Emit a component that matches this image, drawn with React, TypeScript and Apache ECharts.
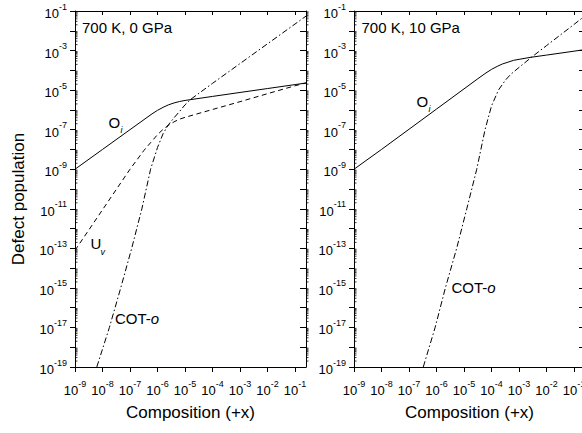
import React, { useEffect, useRef } from "react";
import * as echarts from "echarts";

// ---------- axis definitions ----------
const X_MIN = 1e-9;
const X_MAX = 0.25;
const Y_MIN = 1e-19;
const Y_MAX = 1e-1;
const xTickExps = [-9, -8, -7, -6, -5, -4, -3, -2, -1];
const yTickExps = [-1, -2, -3, -4, -5, -6, -7, -8, -9, -10, -11, -12, -13, -14, -15, -16, -17, -18, -19];
const yLabelExps = [-1, -3, -5, -7, -9, -11, -13, -15, -17, -19];

// ---------- panel 1: 700 K, 0 GPa ----------
const p1OiX = [1e-9, 1e-8, 1e-7, 6.3e-7, 1e-6, 1.6e-6, 2.5e-6, 4e-6, 6.3e-6, 1e-5, 1e-4, 1e-3, 1e-2, 0.1, 0.25];
const p1OiY = [1e-9, 1e-8, 1e-7, 6.3e-7, 9.5e-7, 1.35e-6, 1.8e-6, 2.25e-6, 2.65e-6, 3.0e-6, 4.8e-6, 7.6e-6, 1.2e-5, 1.9e-5, 2.3e-5];

const p1UvX = [1e-9, 1e-8, 1e-7, 3.2e-7, 5.6e-7, 1e-6, 1.6e-6, 2.5e-6, 4e-6, 6.3e-6, 1e-5, 1e-4, 1e-3, 1e-2, 0.1, 0.25];
const p1UvY = [7.9e-14, 8.9e-12, 1e-9, 8.9e-9, 2.2e-8, 5.6e-8, 1.05e-7, 1.66e-7, 2.5e-7, 3.4e-7, 4.2e-7, 1.05e-6, 2.6e-6, 6.6e-6, 1.66e-5, 2.3e-5];

const p1CotX = [6.2e-9, 1.78e-8, 4.6e-8, 1.15e-7, 2.7e-7, 5.6e-7, 1e-6, 1.6e-6, 2.5e-6, 4e-6, 6.3e-6, 1e-5, 1.6e-5, 3.2e-5, 1e-4, 1e-3, 1e-2, 0.1, 0.25];
const p1CotY = [1e-19, 1e-17, 1e-15, 1e-13, 1e-11, 1e-9, 1.26e-8, 6.3e-8, 1.8e-7, 4e-7, 8.3e-7, 1.8e-6, 3.4e-6, 6.9e-6, 2.2e-5, 2.2e-4, 2.2e-3, 2.2e-2, 5.5e-2];

// ---------- panel 2: 700 K, 10 GPa ----------
const p2OiX = [1e-9, 1e-8, 1e-6, 3.2e-5, 6.3e-5, 1e-4, 1.6e-4, 2.5e-4, 4e-4, 6.3e-4, 1e-3, 2.5e-3, 1e-2, 0.1, 0.25];
const p2OiY = [1e-9, 1e-8, 1.1e-6, 3.8e-5, 7.4e-5, 1.12e-4, 1.58e-4, 2.1e-4, 2.6e-4, 3.2e-4, 3.6e-4, 4.5e-4, 5.9e-4, 9.3e-4, 1.12e-3];

const p2CotX = [3.3e-7, 8.9e-7, 2.1e-6, 5.4e-6, 1.26e-5, 2.9e-5, 5.8e-5, 1e-4, 1.78e-4, 3.2e-4, 5e-4, 1e-3, 2.9e-3, 1e-2, 0.1, 0.25];
const p2CotY = [1e-19, 1e-17, 1e-15, 1e-13, 1e-11, 1e-9, 1e-7, 1.6e-6, 1e-5, 3.2e-5, 6.3e-5, 1.4e-4, 4.7e-4, 1.78e-3, 2.1e-2, 5.7e-2];

const FONT = "'Liberation Sans', Arial, Helvetica, sans-serif";
const BLACK = "#000";

const lg = (v: number) => Math.log10(v);
const pairs = (xs: number[], ys: number[]) => xs.map((x, i) => [lg(x), lg(ys[i])]);

// minor (log) tick positions on the y axes: k * 10^n
const minorMultipliers = [2, 3, 4, 5, 6, 7, 8, 9];

const supRich = {
  b: { fontSize: 13, fontFamily: FONT, color: BLACK, lineHeight: 18, verticalAlign: "bottom" },
  s: { fontSize: 9, fontFamily: FONT, color: BLACK, lineHeight: 8, verticalAlign: "top" },
};
const expLabel = (v: number) => `{b|10}{s|${Math.round(v)}}`;

function buildOption() {
  const grids = [
    { left: 75, top: 11, width: 231, height: 356 },
    { left: 354, top: 11, width: 231, height: 356 },
  ];
  const xAxis: any[] = [];
  const yAxis: any[] = [];
  const lineStyle = { color: BLACK, width: 1 };
  grids.forEach((_, gi) => {
    xAxis.push({
      type: "value",
      gridIndex: gi,
      position: "bottom",
      min: lg(X_MIN),
      max: lg(X_MAX),
      axisLine: { show: true, onZero: false, lineStyle },
      axisTick: { show: true, customValues: xTickExps, length: 5, lineStyle },
      axisLabel: { show: true, customValues: xTickExps, formatter: expLabel, rich: supRich, margin: 12 },
      splitLine: { show: false },
      name: "Composition (+x)",
      nameLocation: "middle",
      nameGap: 37,
      nameTextStyle: { fontFamily: FONT, fontSize: 17, color: BLACK },
    });
    xAxis.push({
      type: "value",
      gridIndex: gi,
      position: "top",
      min: lg(X_MIN),
      max: lg(X_MAX),
      axisLine: { show: true, onZero: false, lineStyle },
      axisTick: { show: true, inside: true, customValues: xTickExps, length: 4, lineStyle },
      axisLabel: { show: false },
      splitLine: { show: false },
    });
    yAxis.push({
      type: "value",
      gridIndex: gi,
      position: "left",
      min: lg(Y_MIN),
      max: lg(Y_MAX),
      axisLine: { show: true, onZero: false, lineStyle },
      axisTick: { show: true, customValues: yTickExps, length: 5, lineStyle },
      axisLabel: { show: true, customValues: yLabelExps, formatter: expLabel, rich: supRich, margin: 8 },
      splitLine: { show: false },
    });
    yAxis.push({
      type: "value",
      gridIndex: gi,
      position: "right",
      min: lg(Y_MIN),
      max: lg(Y_MAX),
      axisLine: { show: true, onZero: false, lineStyle },
      axisTick: { show: true, inside: true, customValues: yTickExps, length: 6, lineStyle },
      axisLabel: { show: false },
      splitLine: { show: false },
    });
  });

  const mkLine = (gi: number, data: number[][], type: any) => ({
    type: "line",
    xAxisIndex: gi * 2,
    yAxisIndex: gi * 2,
    data,
    showSymbol: false,
    symbol: "none",
    smooth: false,
    silent: true,
    lineStyle: { color: BLACK, width: 1, type },
  });

  const minorVals: number[][] = [];
  for (let n = -19; n < -1; n++) {
    minorMultipliers.forEach((k) => minorVals.push([lg(X_MIN), n + lg(k)]));
  }
  const mkMinor = (gi: number) => ({
    type: "custom",
    xAxisIndex: gi * 2,
    yAxisIndex: gi * 2,
    clip: false,
    silent: true,
    data: minorVals,
    renderItem: (params: any, api: any) => {
      const v = api.value(1);
      const p = api.coord([lg(X_MIN), v]);
      const q = api.coord([lg(X_MAX), v]);
      return {
        type: "group",
        children: [
          { type: "line", shape: { x1: p[0], y1: p[1], x2: p[0] + 2.5, y2: p[1] }, style: { stroke: BLACK, lineWidth: 0.8 } },
          { type: "line", shape: { x1: q[0], y1: q[1], x2: q[0] + 2.5, y2: q[1] }, style: { stroke: BLACK, lineWidth: 0.8 } },
        ],
      };
    },
  });

  const dashed = [5, 3.5];
  const dashDot = [6, 2.5, 1.5, 2.5];

  const series = [
    mkLine(0, pairs(p1OiX, p1OiY), "solid"),
    mkLine(0, pairs(p1UvX, p1UvY), dashed),
    mkLine(0, pairs(p1CotX, p1CotY), dashDot),
    mkLine(1, pairs(p2OiX, p2OiY), "solid"),
    mkLine(1, pairs(p2CotX, p2CotY), dashDot),
    mkMinor(0),
    mkMinor(1),
  ];

  const txt = (x: number, y: number, text: string, size: number, italic = false, align = "left") => ({
    type: "text",
    x,
    y,
    silent: true,
    style: {
      text,
      fill: BLACK,
      font: `${italic ? "italic " : ""}${size}px ${FONT}`,
      textAlign: align,
      textVerticalAlign: "middle",
    },
  });

  const cotRich = {
    a: { fontSize: 15, fontFamily: FONT, color: BLACK },
    i: { fontSize: 15, fontFamily: FONT, fontStyle: "italic", color: BLACK },
  };
  const cot = (x: number, y: number) => ({
    type: "text",
    x,
    y,
    silent: true,
    style: {
      text: "{a|COT-}{i|o}",
      rich: cotRich,
      fill: BLACK,
      font: `15px ${FONT}`,
      textAlign: "left",
      textVerticalAlign: "middle",
    },
  });

  const graphic = [
    txt(82, 27, "700 K, 0 GPa", 15),
    txt(361.5, 27, "700 K, 10 GPa", 15),
    // O_i labels
    txt(108.5, 122, "O", 15),
    txt(120.5, 129.5, "i", 9, true),
    txt(416.5, 101, "O", 15),
    txt(428.5, 108.5, "i", 9, true),
    // U_v label
    txt(90.5, 243.5, "U", 15),
    txt(100.5, 251.5, "v", 9, true),
    // COT-o labels
    cot(115, 318.5),
    cot(451.5, 287.5),
    {
      type: "text",
      x: 18,
      y: 199,
      rotation: Math.PI / 2,
      silent: true,
      style: {
        text: "Defect population",
        fill: BLACK,
        font: `17px ${FONT}`,
        textAlign: "center",
        textVerticalAlign: "middle",
      },
    },
  ];

  return {
    animation: false,
    backgroundColor: "#fff",
    textStyle: { fontFamily: FONT, color: BLACK },
    grid: grids,
    xAxis,
    yAxis,
    series,
    graphic,
  };
}

export default function App() {
  const ref = useRef<HTMLDivElement>(null);
  useEffect(() => {
    if (!ref.current) return;
    const chart = echarts.init(ref.current, undefined, { renderer: "svg" });
    chart.setOption(buildOption() as any);
    return () => chart.dispose();
  }, []);
  return (
    <div
      style={{
        position: "fixed",
        left: 0,
        top: 0,
        width: 582,
        height: 433,
        overflow: "hidden",
        background: "#fff",
      }}
    >
      <div ref={ref} style={{ width: 600, height: 433 }} />
    </div>
  );
}
